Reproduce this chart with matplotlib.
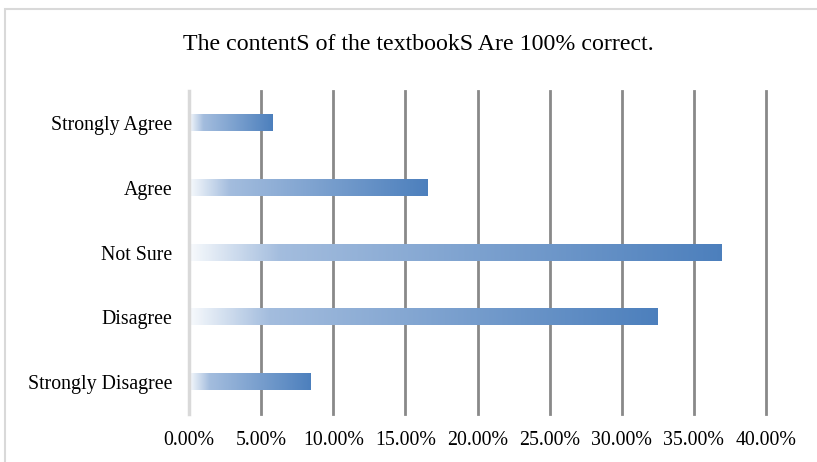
import matplotlib
matplotlib.use("Agg")
import matplotlib.pyplot as plt
import numpy as np
from matplotlib.colors import LinearSegmentedColormap
from matplotlib.patches import Rectangle

categories = ["Strongly Disagree", "Disagree", "Not Sure", "Agree", "Strongly Agree"]
values = [8.4, 32.5, 36.9, 16.5, 5.8]
xticks = [0, 5, 10, 15, 20, 25, 30, 35, 40]
xticklabels = ["0.00%", "5.00%", "10.00%", "15.00%", "20.00%", "25.00%", "30.00%", "35.00%", "40.00%"]
title = "The contentS of the textbookS Are 100% correct."

plt.rcParams['font.family'] = ['Liberation Serif', 'DejaVu Serif']

fig = plt.figure(figsize=(8.17, 4.62), dpi=100)
fig.patches.append(Rectangle((5/817, -0.1), 1.2, 1 - 9/462 + 0.1, transform=fig.transFigure,
                             fill=False, edgecolor="#d9d9d9", linewidth=1.5, zorder=0))
ax = fig.add_axes([189/817, 1 - 414/462, (766-189)/817, (414-91)/462])

cmap = LinearSegmentedColormap.from_list("g", [
    (0.0, (0.97, 0.98, 0.99)),
    (0.17, (0.64, 0.74, 0.87)),
    (1.0, (0.30, 0.50, 0.74)),
])
grad = np.linspace(0, 1, 256).reshape(1, -1)
h = 0.25
for i, v in enumerate(values):
    ax.imshow(grad, cmap=cmap, aspect='auto', extent=(0, v, i - h/2, i + h/2), zorder=3,
              interpolation='bilinear')

ax.set_xlim(0, 40)
ax.set_ylim(-0.5, 4.5)
ax.set_yticks(range(len(categories)))
ax.set_yticklabels(categories, fontsize=14.3)
ax.set_xticks(xticks)
ax.set_xticklabels(xticklabels, fontsize=14.3)
ax.tick_params(length=0, pad=12)
ax.tick_params(axis='x', pad=12)
for x in xticks[1:]:
    ax.axvline(x, color="#898989", linewidth=2.0, zorder=2, clip_on=False)
for s in ["top", "right", "bottom"]:
    ax.spines[s].set_visible(False)
ax.spines["left"].set_color("#d9d9d9")
ax.spines["left"].set_linewidth(2.5)
ax.spines["left"].set_zorder(4)

fig.text(418/817, 1 - 45/462, title, ha="center", va="center", fontsize=17.2)

fig.savefig("out.png", dpi=100)
